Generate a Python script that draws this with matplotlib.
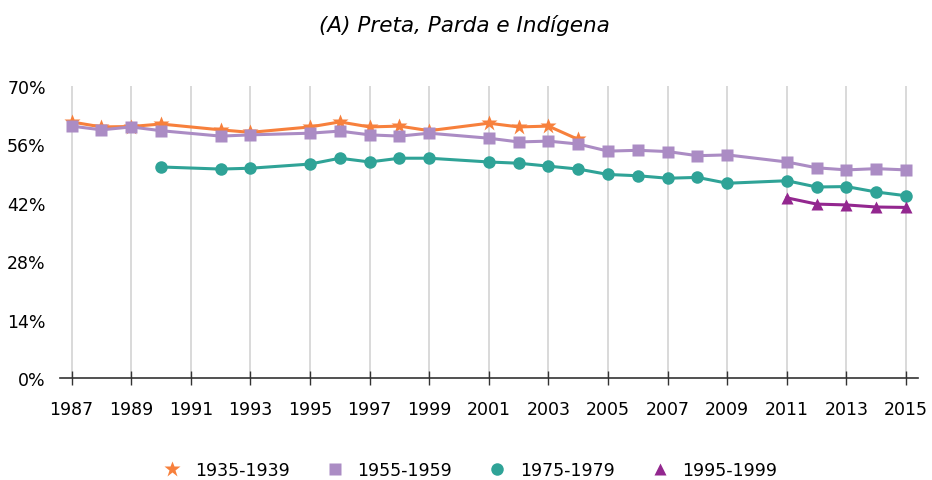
import numpy as np
import matplotlib
matplotlib.use("Agg")
import matplotlib.pyplot as plt
from matplotlib.lines import Line2D

# anos da PNAD (sem anos de censo)
anos = [1987, 1988, 1989, 1990, 1992, 1993, 1995, 1996, 1997, 1998, 1999,
        2001, 2002, 2003, 2004, 2005, 2006, 2007, 2008, 2009,
        2011, 2012, 2013, 2014, 2015]

c1935 = [61.4, 60.2, 60.3, 60.9, 59.5, 58.9, 60.2, 61.4, 60.2, 60.4, 59.3,
         61.1, 60.2, 60.4, 57.2]
c1955 = [60.4, 59.5, 60.2, 59.3, 58.0, 58.3, 58.7, 59.2, 58.3, 58.0, 58.7,
         57.5, 56.6, 56.8, 56.1, 54.4, 54.6, 54.3, 53.3, 53.5,
         51.8, 50.4, 49.9, 50.2, 49.9]
c1975 = [50.6, 50.1, 50.3, 51.3, 52.7, 51.8, 52.7, 52.7,
         51.8, 51.5, 50.8, 50.1, 48.8, 48.5, 47.9, 48.1, 46.7,
         47.3, 45.8, 45.9, 44.6, 43.7]
c1995 = [43.2, 41.7, 41.5, 41.0, 40.9]

rotulos = ["1935-1939", "1955-1959", "1975-1979", "1995-1999"]
cores = ["#F7803C", "#AB8CC4", "#2FA397", "#93278F"]
marcas = ["*", "s", "o", "^"]
tam = [12, 8.5, 9, 8.5]

series = [(anos[:len(c1935)], c1935),
          (anos[:len(c1955)], c1955),
          (anos[3:], c1975),
          (anos[-len(c1995):], c1995)]

fig = plt.figure(figsize=(9.32, 4.81), dpi=100)
ax = fig.add_axes([0.064, 0.212, 0.921, 0.607])

for (x, y), cor, m, s in zip(series, cores, marcas, tam):
    ax.plot(x, y, color=cor, lw=2.2, marker=m, ms=s, mec="none", zorder=3)

ax.set_xlim(1986.6, 2015.4)
ax.set_ylim(0, 70)
ax.set_xticks(range(1987, 2016, 2))
ax.set_yticks([0, 14, 28, 42, 56, 70])
ax.set_yticklabels([f"{v}%" for v in [0, 14, 28, 42, 56, 70]])
ax.grid(axis="x", color="#d3d3d3", lw=1.2, zorder=0)
for s in ["top", "right", "left"]:
    ax.spines[s].set_visible(False)
ax.spines["bottom"].set_color("#333333")
ax.spines["bottom"].set_linewidth(1.2)
ax.tick_params(axis="x", direction="inout", length=10, width=1, color="#333333",
               labelsize=12.5, pad=11)
ax.tick_params(axis="y", length=0, labelsize=12.5, pad=10)

fig.suptitle("(A) Preta, Parda e Indígena", fontsize=15.5, style="italic",
             x=0.498, y=0.968)

handles = [Line2D([], [], ls="none", marker=m, color=c, ms=s, mec="none")
           for m, c, s in zip(marcas, cores, tam)]
fig.legend(handles, rotulos, loc="lower center", ncol=4, frameon=False,
           fontsize=12.5, bbox_to_anchor=(0.5, -0.03), handletextpad=0.3,
           columnspacing=1.6)

fig.savefig("out.png", dpi=100)
